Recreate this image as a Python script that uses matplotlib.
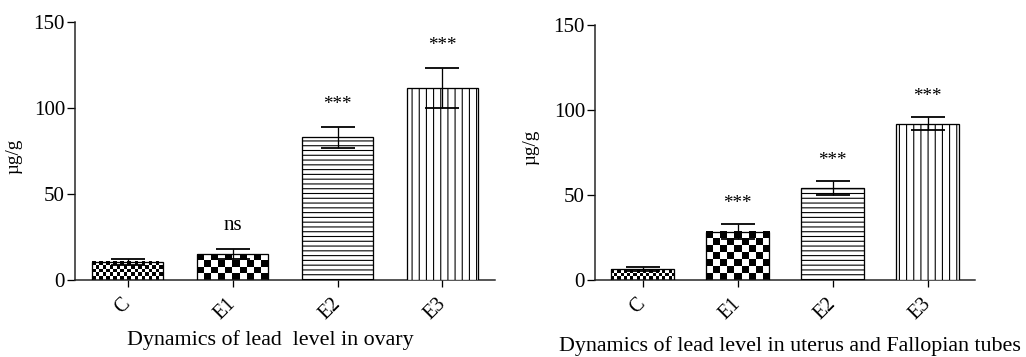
import numpy as np
import matplotlib
matplotlib.use("Agg")
import matplotlib.pyplot as plt

# group names on the x axis
groups = ["C", "E1", "E2", "E3"]

# lead in ovary (ug/g), mean and error
ovary_mean = [10.5, 15.0, 83.0, 111.5]
ovary_err = [1.5, 3.0, 6.0, 11.7]
ovary_marks = ["", "ns", "***", "***"]

# lead in uterus and Fallopian tubes (ug/g)
uterus_mean = [6.3, 28.5, 54.0, 92.0]
uterus_err = [1.2, 4.2, 4.0, 3.6]
uterus_marks = ["", "***", "***", "***"]

DPI = 86


def px(v):
    # pixels -> points at this dpi
    return v * 72 / DPI


plt.rcParams['font.family'] = ['Liberation Serif', 'DejaVu Serif']
plt.rcParams['hatch.linewidth'] = px(1.1)
plt.rcParams['hatch.color'] = 'black'

fig = plt.figure(figsize=(1026 / DPI, 357 / DPI), dpi=DPI)


def checker_fill(ax, bar, cell):
    '''
    Fill a bar with a checkerboard of roughly `cell` pixels.
    '''
    x0, y0 = bar.get_x(), bar.get_y()
    x1, y1 = x0 + bar.get_width(), y0 + bar.get_height()
    (p0x, p0y), (p1x, p1y) = ax.transData.transform([(x0, y0), (x1, y1)])
    ncol = max(1, int(round((p1x - p0x) / cell)))
    nrow = max(1, int(round((p1y - p0y) / cell)))
    ii, jj = np.indices((nrow, ncol))
    board = (ii + jj) % 2
    ax.imshow(board, extent=(x0, x1, y0, y1), cmap='gray', vmin=0, vmax=1,
              interpolation='nearest', aspect='auto', clip_path=bar,
              zorder=2)


def draw_panel(rect, means, errs, marks, cells, pad, ylab_xy):
    ax = fig.add_axes(rect)
    x = np.arange(len(groups))
    hatches = [None, None, '---', '||']
    bars = ax.bar(x, means, width=0.67, facecolor='none', edgecolor='black',
                  linewidth=px(1.3), zorder=3)
    for b, h in zip(bars, hatches):
        if h is not None:
            b.set_facecolor('white')
            b.set_hatch(h)
    ax.errorbar(x, means, yerr=errs, fmt='none', ecolor='black',
                elinewidth=px(1.3), capsize=px(17), capthick=px(1.8),
                zorder=4)

    ax.set_xlim(-0.5, 3.5)
    ax.set_ylim(0, 150)
    for i in range(2):
        checker_fill(ax, bars[i], cells[i])
    ax.set_xlim(-0.5, 3.5)
    ax.set_ylim(0, 150)

    for xi, m, e, t in zip(x, means, errs, marks):
        if not t:
            continue
        size = px(21) if t == "ns" else px(19)
        ax.annotate(t, xy=(xi, m + e), xytext=(0, pad), textcoords='offset points',
                    ha='center', va='bottom', fontsize=size)

    ax.set_yticks([0, 50, 100, 150])
    ax.set_xticks(x)
    ax.set_xticklabels(groups, rotation=45, ha='right', va='center',
                       rotation_mode='anchor')
    ax.tick_params(axis='y', length=px(8), width=px(1.3), labelsize=px(21),
                   pad=px(2))
    ax.tick_params(axis='x', length=px(7), width=px(1.3), labelsize=px(20),
                   pad=px(14))
    for s in ['top', 'right']:
        ax.spines[s].set_visible(False)
    for s in ['left', 'bottom']:
        ax.spines[s].set_linewidth(px(1.5))
        ax.spines[s].set_color('#222222')
    ax.set_ylabel("µg/g", fontsize=px(19))
    ax.yaxis.set_label_coords(*ylab_xy)
    return ax


draw_panel([75 / 1026, 1 - 280 / 357, 420 / 1026, 258 / 357],
           ovary_mean, ovary_err, ovary_marks, [3.5, 7], px(14),
           (-0.125, 0.48))
draw_panel([595 / 1026, 1 - 280 / 357, 380 / 1026, 255 / 357],
           uterus_mean, uterus_err, uterus_marks, [3.2, 7], px(12),
           (-0.145, 0.52))

fig.text(270 / 1026, 1 - 340 / 357, "Dynamics of lead  level in ovary",
         ha='center', va='center', fontsize=px(22))
fig.text(790 / 1026, 1 - 346 / 357,
         "Dynamics of lead level in uterus and Fallopian tubes",
         ha='center', va='center', fontsize=px(22))

fig.savefig("out.png", dpi=DPI)
